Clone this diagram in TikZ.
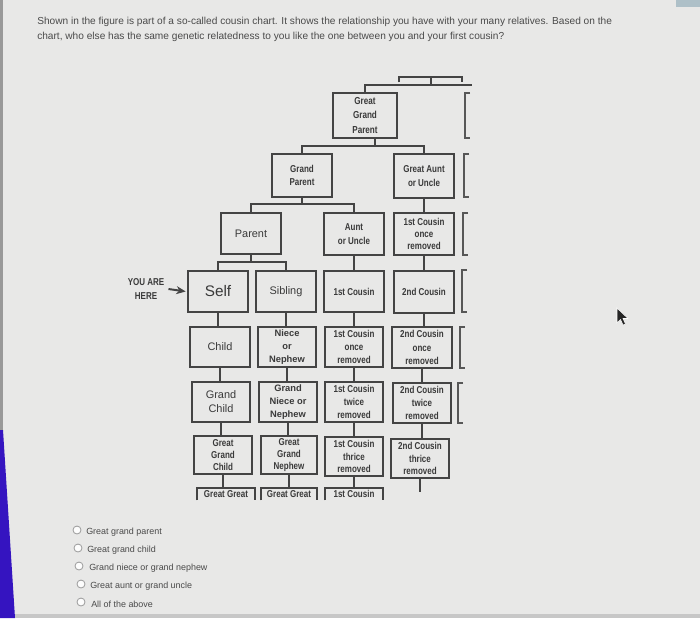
\documentclass[tikz,border=0pt]{standalone}
\usepackage{fontspec}
\setmainfont{Liberation Sans}
\newfontfamily\condf[FakeStretch=0.8]{Liberation Sans}
\usetikzlibrary{arrows.meta}
\definecolor{bg}{HTML}{E8E8E7}
\definecolor{ink}{HTML}{444444}
\definecolor{txt}{HTML}{3A3A3A}
\definecolor{qtxt}{HTML}{4A4A4A}
\definecolor{radio}{HTML}{9A9A9A}
\definecolor{edgeblue}{HTML}{3514C0}
\definecolor{cornerblue}{HTML}{AEC0C8}
\tikzset{
  box/.style={draw=ink, line width=1.5pt, inner sep=0pt, align=center, text=txt},
  obox/.style={inner sep=0pt, align=center, text=txt},
  cb/.style={font=\condf\bfseries\fontsize{7.5}{10}\selectfont},
  cbs/.style={font=\condf\bfseries\fontsize{7.5}{9.3}\selectfont},
  cbt/.style={font=\condf\bfseries\fontsize{7.6}{10.9}\selectfont},
  nb/.style={font=\bfseries\fontsize{7}{9.8}\selectfont},
  rg/.style={font=\fontsize{8.2}{10.5}\selectfont},
  big/.style={font=\fontsize{11.5}{13}\selectfont},
  conn/.style={draw=ink, line width=1.5pt},
  brk/.style={draw=ink!90, line width=1.5pt},
  qt/.style={anchor=west, inner sep=0pt, text=qtxt, font=\fontsize{7.6}{9}\selectfont},
  opt/.style={anchor=west, inner sep=0pt, text=qtxt, font=\fontsize{6.7}{8}\selectfont},
  rb/.style={circle, draw=radio, fill=white!90!bg, line width=0.6pt, minimum size=6pt, inner sep=0pt},
}
% \bx[style]{name}{x1}{y1}{x2}{y2}{text}
\newcommand{\bx}[7][]{\node[box,#1,minimum width={(#5-#3)*0.75pt},minimum height={(#6-#4)*0.75pt}] (#2) at ({(#3+#5)/2},{(#4+#6)/2}) {#7};}
\newcommand{\ob}[7][]{\node[obox,#1,minimum width={(#5-#3)*0.75pt},minimum height={(#6-#4)*0.75pt}] (#2) at ({(#3+#5)/2},{(#4+#6)/2}) {#7};}
\newcommand{\brak}[3]{\draw[brk] (#1+5,#2) -- (#1,#2) -- (#1,#3) -- (#1+5,#3);}
\begin{document}
\begin{tikzpicture}[x=0.75pt,y=-0.75pt]
\fill[bg] (0,0) rectangle (700,618);
\useasboundingbox (0,0) rectangle (700,618);
% photo edges
\fill[black!40] (0,0) rectangle (3,440);
\fill[edgeblue] (0,430) -- (3,430) -- (15,618) -- (0,618) -- cycle;
\fill[black!22] (15,614) rectangle (700,618);
\fill[cornerblue] (676,0) rectangle (700,7);

% question
\node[qt] (q1) at (37,22) {Shown in the figure is part of a so-called cousin chart. It shows the relationship you have with your many relatives. Based on the};
\node[qt] (q2) at (37,37) {chart, who else has the same genetic relatedness to you like the one between you and your first cousin?};

% row 1-3
\bx[cbt]{ggp}{333}{93}{397}{138}{Great\\Grand\\Parent}
\bx[cb]{gp}{272}{154}{332}{197}{Grand\\Parent}
\bx[cb]{gau}{394}{154}{454}{198}{Great Aunt\\or Uncle}
\bx[rg]{par}{221}{213}{281}{254}{Parent}
\bx[cb]{au}{324}{213}{384}{255}{Aunt\\or Uncle}
\bx[cbs]{cor}{394}{213}{454}{255}{1st Cousin\\once\\removed}
% row 4
\bx[big]{self}{188}{271}{248}{312}{Self}
\bx[rg]{sib}{256}{271}{316}{312}{Sibling}
\bx[cb]{fc}{324}{271}{384}{312}{1st Cousin}
\bx[cb]{sc}{394}{271}{454}{313}{2nd Cousin}
% row 5
\bx[rg]{child}{190}{327}{250}{367}{Child}
\bx[nb]{non}{258}{327}{316}{367}{Niece\\or\\Nephew}
\bx[cb]{fc1}{325}{327}{383}{367}{1st Cousin\\once\\removed}
\bx[cb]{sc1}{392}{327}{452}{368}{2nd Cousin\\once\\removed}
% row 6
\bx[rg]{gc}{192}{382}{250}{422}{Grand\\Child}
\bx[nb]{gnon}{259}{382}{317}{422}{Grand\\Niece or\\Nephew}
\bx[cb]{fc2}{325}{382}{383}{422}{1st Cousin\\twice\\removed}
\bx[cb]{sc2}{393}{383}{451}{423}{2nd Cousin\\twice\\removed}
% row 7
\bx[cbs]{ggc}{194}{436}{252}{474}{Great\\Grand\\Child}
\bx[cbs]{ggn}{261}{436}{317}{474}{Great\\Grand\\Nephew}
\bx[cbs]{fc3}{325}{437}{383}{476}{1st Cousin\\thrice\\removed}
\bx[cbs]{sc3}{391}{439}{449}{478}{2nd Cousin\\thrice\\removed}
% row 8 (cut off)
\ob[cb]{ga}{197}{488}{255}{500}{\raisebox{-1pt}{Great Great}}
\ob[cb]{gb}{261}{488}{317}{500}{\raisebox{-1pt}{Great Great}}
\ob[cb]{gcz}{325}{488}{383}{500}{\raisebox{-1pt}{1st Cousin}}
\foreach \n in {ga,gb,gcz}{\draw[conn] (\n.south west) |- (\n.north east) -- (\n.south east);}

% top connectors
\coordinate (ta) at (399,77);
\coordinate (tb) at (462,77);
\coordinate (t1) at (431,85);
\coordinate (tr) at (472,85);
\draw[conn] ([yshift=-4]ta) -- (ta) -- (tb) -- ([yshift=-4]tb);
\draw[conn] (t1) -- (t1 |- ta);
\draw[conn] (ggp.north) |- (tr);
% GGP -> GP, GAU
\coordinate (j1) at (375,146);
\draw[conn] (ggp.south -| j1) -- (j1);
\draw[conn] (gp.north) |- (j1) -| (gau.north);
% GP -> Parent, AU
\coordinate (j2) at (302,204);
\draw[conn] (gp.south) -- (j2);
\draw[conn] (par.north) |- (j2) -| (au.north);
% Parent -> Self, Sibling
\coordinate (j3) at (251,262);
\draw[conn] (par.south -| j3) -- (j3);
\draw[conn] (self.north) |- (j3) -| (sib.north);
% vertical chains
\draw[conn] (gau.south) -- (gau.south |- cor.north);
\draw[conn] (au.south) -- (au.south |- fc.north);
\draw[conn] (cor.south) -- (cor.south |- sc.north);
\foreach \a/\b in {self/child,child/gc,gc/ggc,ggc/ga,sib/non,non/gnon,gnon/ggn,ggn/gb,fc/fc1,fc1/fc2,fc2/fc3,fc3/gcz,sc/sc1,sc1/sc2,sc2/sc3}{
  \draw[conn] (\a.south) -- (\a.south |- \b.north);
}
\coordinate (send) at (420,492);
\draw[conn] (sc3.south -| send) -- (send);

% brackets on the right
\brak{465}{93}{138}
\brak{464}{154}{197}
\brak{463}{213}{255}
\brak{462}{270}{312}
\brak{460}{327}{368}
\brak{458}{383}{423}

% you are here
\node[cb, text=txt, align=center, inner sep=0pt] (you) at (146,289) {YOU ARE\\HERE};
\draw[conn, -{Stealth[length=7pt,width=6pt]}] ([xshift=3]you.east) -- ([xshift=-1]self.west);

% answer options
\node[rb] (r1) at (77,530) {};
\node[rb] (r2) at (78,548) {};
\node[rb] (r3) at (79,566) {};
\node[rb] (r4) at (81,584) {};
\node[rb] (r5) at (81,602) {};
\node[opt] (o1) at (86,532) {Great grand parent};
\node[opt] (o2) at (87,550) {Great grand child};
\node[opt] (o3) at (89,568) {Grand niece or grand nephew};
\node[opt] (o4) at (90,586) {Great aunt or grand uncle};
\node[opt] (o5) at (91,604) {All of the above};

% mouse cursor
\fill[black!85, draw=white, line width=0.4pt] (617,308) -- (617,323) -- (620.5,319.5) -- (623,325) -- (625.5,324) -- (623,318.5) -- (628,318.5) -- cycle;
\end{tikzpicture}
\end{document}
